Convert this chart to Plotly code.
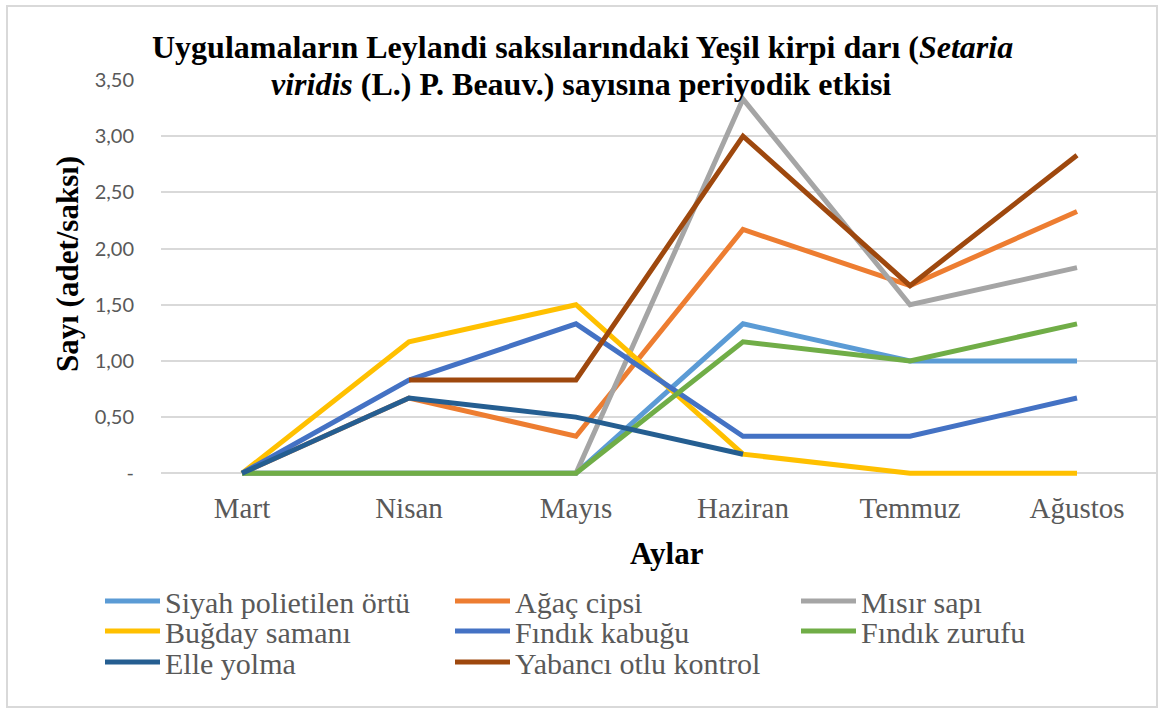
import plotly.graph_objects as go

# ---- data ----
months = ["Mart", "Nisan", "Mayıs", "Haziran", "Temmuz", "Ağustos"]
siyah_polietilen = [0, 0, 0, 1.33, 1.00, 1.00]
agac_cipsi = [0, 0.67, 0.33, 2.17, 1.67, 2.33]
misir_sapi = [0, 0, 0, 3.33, 1.50, 1.83]
bugday_samani = [0, 1.17, 1.50, 0.17, 0, 0]
findik_kabugu = [0, 0.83, 1.33, 0.33, 0.33, 0.67]
findik_zurufu = [0, 0, 0, 1.17, 1.00, 1.33]
elle_yolma = [0, 0.67, 0.50, 0.17, None, None]
yabanci_otlu = [None, 0.83, 0.83, 3.00, 1.67, 2.83]

series_names = ["Siyah polietilen örtü", "Ağaç cipsi", "Mısır sapı", "Buğday samanı",
                "Fındık kabuğu", "Fındık zurufu", "Elle yolma", "Yabancı otlu kontrol"]
series_values = [siyah_polietilen, agac_cipsi, misir_sapi, bugday_samani,
                 findik_kabugu, findik_zurufu, elle_yolma, yabanci_otlu]
colors = ["#5B9BD5", "#ED7D31", "#A5A5A5", "#FFC000",
          "#4472C4", "#70AD47", "#255E91", "#9E480E"]

y_tickvals = [0, 0.5, 1.0, 1.5, 2.0, 2.5, 3.0, 3.5]
y_ticktext = ["-", "0,50", "1,00", "1,50", "2,00", "2,50", "3,00", "3,50"]

# ---- layout geometry (pixels) ----
WIDTH, HEIGHT = 1158, 709
L, R, T, B = 161, 1, 80, 232
W = WIDTH - L - R
H = HEIGHT - T - B
BOT = T + H


def px_x(px):
    return (px - L) / W


def px_y(py):
    return (BOT - py) / H


SERIF = "Liberation Serif"
GRAY = "#595959"
ITEMW = 55

fig = go.Figure()

# legend positions: (text start x, row center y)
legend_pos = [(166, 601), (516, 601), (862, 601),
              (166, 631), (516, 631), (862, 631),
              (166, 662), (516, 662)]

legend_layouts = {}
for i, (name, vals, col) in enumerate(zip(series_names, series_values, colors)):
    lkey = "legend" if i == 0 else f"legend{i + 1}"
    fig.add_trace(go.Scatter(
        x=months, y=vals, name=name, mode="lines",
        line=dict(color=col, width=5),
        connectgaps=False,
        legend=lkey,
    ))
    tx, ty = legend_pos[i]
    legend_layouts[lkey] = dict(
        x=px_x(tx - ITEMW - 11), y=px_y(ty), xanchor="left", yanchor="middle",
        xref="paper", yref="paper",
        font=dict(family=SERIF, size=30, color=GRAY),
        bgcolor="rgba(0,0,0,0)", borderwidth=0,
        itemwidth=ITEMW,
    )

fig.update_layout(
    width=WIDTH, height=HEIGHT,
    margin=dict(l=L, r=R, t=T, b=B, pad=0),
    paper_bgcolor="white", plot_bgcolor="white",
    showlegend=True,
    **legend_layouts,
)

fig.update_xaxes(
    type="category",
    range=[-0.485, 5.479],
    showgrid=False, zeroline=False, showline=False,
    ticks="", ticklabelstandoff=11,
    tickfont=dict(family=SERIF, size=29, color=GRAY),
)
fig.update_yaxes(
    range=[-0.033, 3.5],
    tickvals=y_tickvals, ticktext=y_ticktext,
    showgrid=True, gridcolor="#D9D9D9", gridwidth=2,
    zeroline=True, zerolinecolor="#D9D9D9", zerolinewidth=2,
    showline=False, ticks="", ticklabelstandoff=26,
    tickfont=dict(family="Lato", size=20, color=GRAY),
)

# white patch hiding the top gridline behind the second title line (below traces)
fig.add_shape(type="rect", xref="paper", yref="paper",
              x0=px_x(268), x1=px_x(895), y0=px_y(92), y1=px_y(70),
              fillcolor="white", line=dict(width=0), layer="between")

# outer frame
fig.add_shape(type="rect", xref="paper", yref="paper",
              x0=px_x(7), x1=px_x(1157), y0=px_y(707), y1=px_y(6),
              fillcolor="rgba(0,0,0,0)", line=dict(color="#D9D9D9", width=2),
              layer="above")

# title (two lines)
fig.add_annotation(
    text="<b>Uygulamaların Leylandi saksılarındaki Yeşil kirpi darı (<i>Setaria</i></b>",
    xref="paper", yref="paper", x=px_x(582), y=px_y(47),
    xanchor="center", yanchor="middle", showarrow=False,
    font=dict(family=SERIF, size=32, color="black"),
)
fig.add_annotation(
    text="<b><i>viridis</i> (L.) P. Beauv.) sayısına periyodik etkisi</b>",
    xref="paper", yref="paper", x=px_x(581), y=px_y(84),
    xanchor="center", yanchor="middle", showarrow=False,
    font=dict(family=SERIF, size=32, color="black"),
)

# axis titles
fig.add_annotation(
    text="<b>Sayı (adet/saksı)</b>",
    xref="paper", yref="paper", x=px_x(67), y=px_y(264),
    xanchor="center", yanchor="middle", showarrow=False, textangle=-90,
    font=dict(family=SERIF, size=31, color="black"),
)
fig.add_annotation(
    text="<b>Aylar</b>",
    xref="paper", yref="paper", x=px_x(667), y=px_y(553),
    xanchor="center", yanchor="middle", showarrow=False,
    font=dict(family=SERIF, size=31, color="black"),
)

fig.write_html(
    "out.html",
    config={"displayModeBar": False},
    post_script="document.body.style.margin='0';document.body.style.overflow='hidden';",
)
